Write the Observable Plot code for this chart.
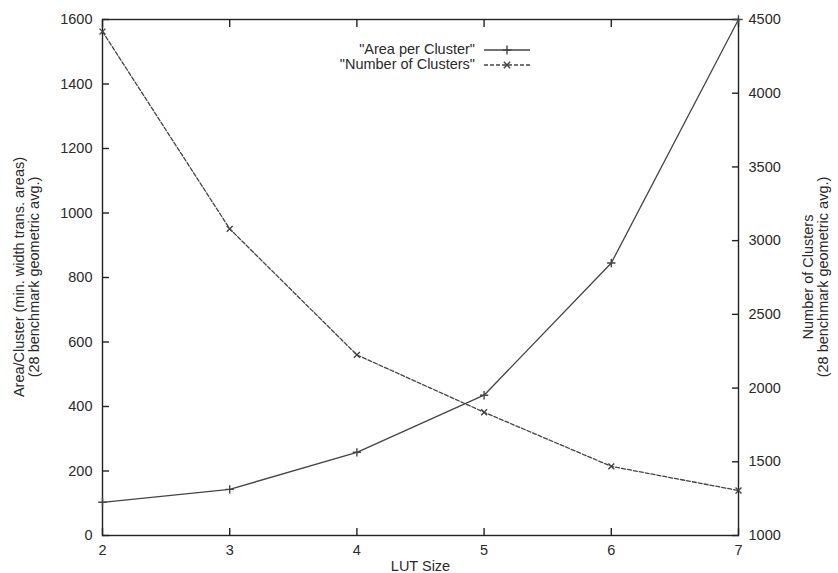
<!DOCTYPE html>
<html>
<head>
<meta charset="utf-8">
<script src="https://cdn.jsdelivr.net/npm/d3@7"></script>
<script src="https://cdn.jsdelivr.net/npm/@observablehq/plot@0.6"></script>
<style>
  html, body { margin: 0; padding: 0; background: #fff; }
  #wrap { position: relative; width: 838px; height: 573px; font-family: "Liberation Sans", Arial, Helvetica, sans-serif; color: #2a2a2a; }
  .ylab { position: absolute; top: 277px; white-space: nowrap; font-size: 14.5px; line-height: 15px; text-align: center; transform: translate(-50%, -50%) rotate(-90deg); }
  #legend { position: absolute; left: 300px; top: 42px; font-size: 14.5px; }
  .lrow { position: absolute; height: 15px; line-height: 15px; white-space: nowrap; }
  .lrow span { position: absolute; right: 0; top: 0; }
</style>
</head>
<body>
<div id="wrap"></div>
<script>
// ---- data ----
const lutSize = [2, 3, 4, 5, 6, 7];
const areaPerCluster = [103, 143, 258, 435, 845, 1600];
const numberOfClusters = [4418, 3080, 2225, 1836, 1469, 1305];
const leftTicks = [0, 200, 400, 600, 800, 1000, 1200, 1400, 1600];
const rightTicks = [1000, 1500, 2000, 2500, 3000, 3500, 4000, 4500];
const xTicks = [2, 3, 4, 5, 6, 7];
const seriesNames = ['"Area per Cluster"', '"Number of Clusters"'];

// map right-axis values onto the left-axis domain
const R0 = 1000, R1 = 4500, L0 = 0, L1 = 1600;
const toLeft = v => L0 + (v - R0) / (R1 - R0) * (L1 - L0);
const toRight = v => R0 + (v - L0) / (L1 - L0) * (R1 - R0);

const areaData = lutSize.map((x, i) => ({x, y: areaPerCluster[i]}));
const clusterData = lutSize.map((x, i) => ({x, y: toLeft(numberOfClusters[i])}));

const ink = "#222";
const lineInk = "#444";
const fmt = d => String(d);

const chart = Plot.plot({
  width: 838,
  height: 573,
  marginLeft: 102,
  marginRight: 100,
  marginTop: 19,
  marginBottom: 38,
  style: {fontFamily: '"Liberation Sans", Arial, Helvetica, sans-serif', fontSize: "14.5px", color: "#2a2a2a", background: "#fff"},
  x: {domain: [2, 7]},
  y: {domain: [L0, L1]},
  marks: [
    Plot.frame({stroke: ink, strokeWidth: 1.4}),
    Plot.axisX({anchor: "bottom", ticks: xTicks, tickFormat: fmt, tickSize: -7, tickPadding: 16, label: "LUT Size", labelAnchor: "center", labelOffset: 35, labelArrow: "none", stroke: ink, strokeWidth: 1.4}),
    Plot.axisX({anchor: "top", ticks: xTicks, tickFormat: null, text: null, tickSize: -7, label: null, stroke: ink, strokeWidth: 1.4}),
    Plot.axisY({anchor: "left", ticks: leftTicks, tickFormat: fmt, tickSize: -7, tickPadding: 17, label: null, stroke: ink, strokeWidth: 1.4}),
    Plot.axisY({anchor: "right", ticks: rightTicks.map(toLeft), tickFormat: d => String(Math.round(toRight(d))), tickSize: -7, tickPadding: 17, label: null, stroke: ink, strokeWidth: 1.4}),
    Plot.line(areaData, {x: "x", y: "y", stroke: lineInk, strokeWidth: 1.3}),
    Plot.dot(areaData, {x: "x", y: "y", symbol: "plus", r: 2.8, stroke: lineInk, strokeWidth: 1.4}),
    Plot.line(clusterData, {x: "x", y: "y", stroke: lineInk, strokeWidth: 1.3, strokeDasharray: "4,2"}),
    Plot.dot(clusterData, {x: "x", y: "y", symbol: "times", r: 2.8, stroke: lineInk, strokeWidth: 1.4})
  ]
});

const wrap = document.getElementById("wrap");
wrap.appendChild(chart);

// y-axis titles (two lines, rotated)
const yl = document.createElement("div");
yl.className = "ylab";
yl.style.left = "27px";
yl.innerHTML = "Area/Cluster (min. width trans. areas)<br>(28 benchmark geometric avg.)";
wrap.appendChild(yl);

const yr = document.createElement("div");
yr.className = "ylab";
yr.style.left = "816px";
yr.innerHTML = "Number of Clusters<br>(28 benchmark geometric avg.)";
wrap.appendChild(yr);

// legend (gnuplot style: text right-aligned, then sample)
const legend = document.createElement("div");
legend.id = "legend";
const styles = [
  {dash: null, sym: d3.symbolPlus},
  {dash: "4,2", sym: d3.symbolTimes}
];
seriesNames.forEach((name, i) => {
  const row = document.createElement("div");
  row.className = "lrow";
  row.style.left = "0px";
  row.style.top = (i * 15) + "px";
  row.style.width = "232px";
  const txt = document.createElement("span");
  txt.style.right = "57px";
  txt.textContent = name;
  row.appendChild(txt);
  const svg = d3.create("svg").attr("width", 50).attr("height", 15)
    .style("position", "absolute").style("right", "0px").style("top", "0px");
  svg.append("line").attr("x1", 2).attr("x2", 48).attr("y1", 8).attr("y2", 8)
    .attr("stroke", lineInk).attr("stroke-width", 1.3)
    .attr("stroke-dasharray", styles[i].dash);
  svg.append("path").attr("transform", "translate(25,8)")
    .attr("d", d3.symbol(styles[i].sym, 28)())
    .attr("fill", "none").attr("stroke", lineInk).attr("stroke-width", 1.4);
  row.appendChild(svg.node());
  legend.appendChild(row);
});
wrap.appendChild(legend);
</script>
</body>
</html>
